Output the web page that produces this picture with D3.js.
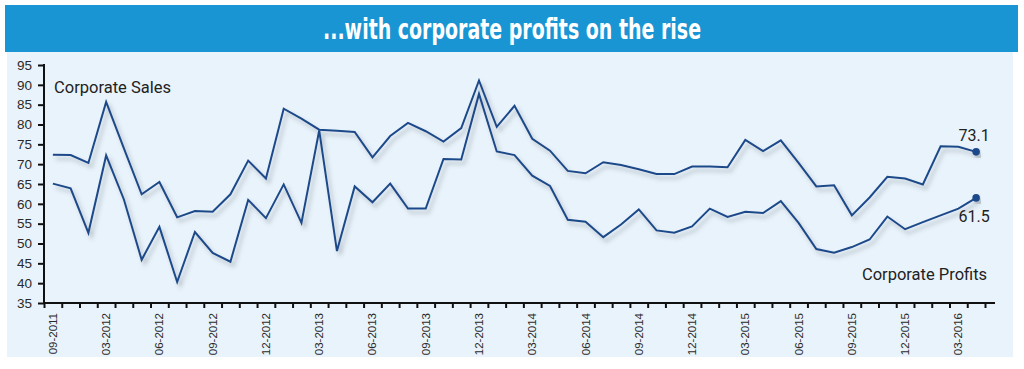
<!DOCTYPE html>
<html>
<head>
<meta charset="utf-8">
<script src="https://cdn.jsdelivr.net/npm/d3@7"></script>
<style>
  body { margin: 0; background: #fff; }
  svg { display: block; }
</style>
</head>
<body>
<div id="chart"></div>
<script>
// data (monthly survey readings)
const tickLabels = ["09-2011", "03-2012", "06-2012", "09-2012", "12-2012", "03-2013",
  "06-2013", "09-2013", "12-2013", "03-2014", "06-2014", "09-2014", "12-2014",
  "03-2015", "06-2015", "09-2015", "12-2015", "03-2016"];

const salesValues = [72.4, 72.3, 70.3, 85.7, 74.0, 62.4, 65.5, 56.6, 58.2, 58.0,
  62.4, 70.9, 66.4, 84.0, 81.5, 78.7, 78.4, 78.1, 71.7, 77.1,
  80.4, 78.3, 75.7, 79.1, 91.1, 79.4, 84.7, 76.4, 73.4, 68.3,
  67.7, 70.5, 69.8, 68.7, 67.5, 67.5, 69.4, 69.4, 69.2, 76.1,
  73.3, 76.0, 70.3, 64.4, 64.7, 57.1, 61.6, 66.8, 66.4, 64.9,
  74.5, 74.4, 73.1];

const profitValues = [65.1, 63.9, 52.7, 72.2, 61.1, 45.9, 54.2, 40.3, 52.9, 47.6,
  45.4, 61.0, 56.4, 64.9, 55.2, 78.5, 48.1, 64.4, 60.4, 65.1,
  58.8, 58.8, 71.3, 71.2, 87.7, 73.2, 72.3, 67.1, 64.5, 56.0,
  55.5, 51.6, 54.8, 58.6, 53.3, 52.7, 54.3, 58.8, 56.7, 58.0,
  57.7, 60.7, 55.2, 48.6, 47.7, 49.1, 51.0, 56.8, 53.6, 55.4,
  57.1, 58.8, 61.5];

const yTicks = [35, 40, 45, 50, 55, 60, 65, 70, 75, 80, 85, 90, 95];

const svgWidth = 1024;
const svgHeight = 369;

let margin = { top: 65, left: 44, right: 39, bottom: 66 };
let width = svgWidth - margin.left - margin.right;
let height = svgHeight - margin.top - margin.bottom;

const navy = "#1d4a8a";

let svg = d3.select("#chart")
  .append("svg")
  .attr("width", svgWidth)
  .attr("height", svgHeight);

// soft drop shadow under the lines
let defs = svg.append("defs");
let shadow = defs.append("filter")
  .attr("id", "shadow")
  .attr("x", "-5%").attr("y", "-20%")
  .attr("width", "110%").attr("height", "140%");
shadow.append("feDropShadow")
  .attr("dx", 3).attr("dy", 4)
  .attr("stdDeviation", 2)
  .attr("flood-color", "#5a646e")
  .attr("flood-opacity", 0.4);

// panel background + title bar
svg.append("rect")
  .attr("x", 7).attr("y", 50)
  .attr("width", 1006).attr("height", 307)
  .attr("fill", "#e9f3fb");

svg.append("rect")
  .attr("x", 5).attr("y", 5)
  .attr("width", 1013).attr("height", 47)
  .attr("fill", "#1a95d3");

svg.append("text")
  .attr("x", 512).attr("y", 39)
  .attr("text-anchor", "middle")
  .attr("font-family", "'Liberation Sans Narrow', 'DejaVu Sans Condensed', sans-serif")
  .attr("font-weight", "bold")
  .attr("font-size", 28)
  .attr("fill", "#fff")
  .attr("textLength", 378)
  .attr("lengthAdjust", "spacingAndGlyphs")
  .text("...with corporate profits on the rise");

let chartGroup = svg.append("g")
  .attr("transform", `translate(${margin.left}, ${margin.top})`);

// scales
const idx = salesValues.map((d, i) => i);

let xBand = d3.scaleBand()
  .domain(idx)
  .range([0, width])
  .padding(0);

let xEdge = d3.scaleLinear()
  .domain([0, idx.length])
  .range([0, width]);

let yLinearScale = d3.scaleLinear()
  .domain([35, 95])
  .range([height, 0]);

const xc = i => xBand(i) + xBand.bandwidth() / 2;

// y axis
let leftAxis = d3.axisLeft(yLinearScale)
  .tickValues(yTicks)
  .tickSize(6)
  .tickPadding(6);

let yAxisG = chartGroup.append("g").call(leftAxis);
yAxisG.select(".domain").remove();
yAxisG.append("line")
  .attr("x1", 0).attr("x2", 0)
  .attr("y1", -1).attr("y2", height)
  .attr("stroke", "#111").attr("stroke-width", 2);
yAxisG.selectAll(".tick line").attr("stroke", "#111").attr("stroke-width", 2);
yAxisG.selectAll(".tick text")
  .attr("font-family", "'Liberation Sans Narrow', sans-serif")
  .attr("font-size", 13.5)
  .attr("fill", "#2a2a2a");

// x axis: ticks at month boundaries
let bottomAxis = d3.axisBottom(xEdge)
  .tickValues(d3.range(0, idx.length + 1))
  .tickSize(5)
  .tickFormat("");

let xAxisG = chartGroup.append("g")
  .attr("transform", `translate(0, ${height})`)
  .call(bottomAxis);
xAxisG.select(".domain").remove();
xAxisG.append("line")
  .attr("x1", -1).attr("x2", width + 10)
  .attr("y1", 0).attr("y2", 0)
  .attr("stroke", "#111").attr("stroke-width", 2);
xAxisG.selectAll(".tick line").attr("stroke", "#111").attr("stroke-width", 2);

// x labels, every third month, rotated
let labelAxis = d3.axisBottom(xBand)
  .tickValues(tickLabels.map((d, i) => i * 3))
  .tickSize(0)
  .tickFormat(i => tickLabels[i / 3]);

let labG = chartGroup.append("g")
  .attr("transform", `translate(0, ${height})`)
  .call(labelAxis);
labG.select(".domain").remove();
labG.selectAll(".tick text")
  .attr("font-family", "'Liberation Sans Narrow', sans-serif")
  .attr("font-size", 11.5)
  .attr("fill", "#2a2a2a")
  .attr("text-anchor", "end")
  .attr("transform", "rotate(-90)")
  .attr("x", -10)
  .attr("y", 0)
  .attr("dy", "0.35em");

// lines
let line = d3.line()
  .x((d, i) => xc(i))
  .y(d => yLinearScale(d));

[salesValues, profitValues].forEach(series => {
  chartGroup.append("path")
    .datum(series)
    .attr("fill", "none")
    .attr("stroke", navy)
    .attr("stroke-width", 2)
    .attr("stroke-linejoin", "miter")
    .attr("filter", "url(#shadow)")
    .attr("d", line);
});

// end markers + value labels
const last = idx.length - 1;
const ends = [
  { v: salesValues[last], dy: -11 },
  { v: profitValues[last], dy: 24 }
];

ends.forEach(e => {
  chartGroup.append("circle")
    .attr("cx", xc(last))
    .attr("cy", yLinearScale(e.v))
    .attr("r", 3.8)
    .attr("fill", navy)
    .attr("filter", "url(#shadow)");
  chartGroup.append("text")
    .attr("x", xc(last) - 2)
    .attr("y", yLinearScale(e.v) + e.dy)
    .attr("text-anchor", "middle")
    .attr("font-family", "Roboto, sans-serif")
    .attr("font-size", 16)
    .attr("fill", "#222")
    .text(e.v.toFixed(1));
});

// series names
chartGroup.append("text")
  .attr("x", 10).attr("y", 28)
  .attr("font-family", "Roboto, sans-serif")
  .attr("font-size", 16.5)
  .attr("fill", "#222")
  .text("Corporate Sales");

chartGroup.append("text")
  .attr("x", xc(last) + 11).attr("y", 215)
  .attr("text-anchor", "end")
  .attr("font-family", "Roboto, sans-serif")
  .attr("font-size", 16.5)
  .attr("fill", "#222")
  .text("Corporate Profits");
</script>
</body>
</html>
